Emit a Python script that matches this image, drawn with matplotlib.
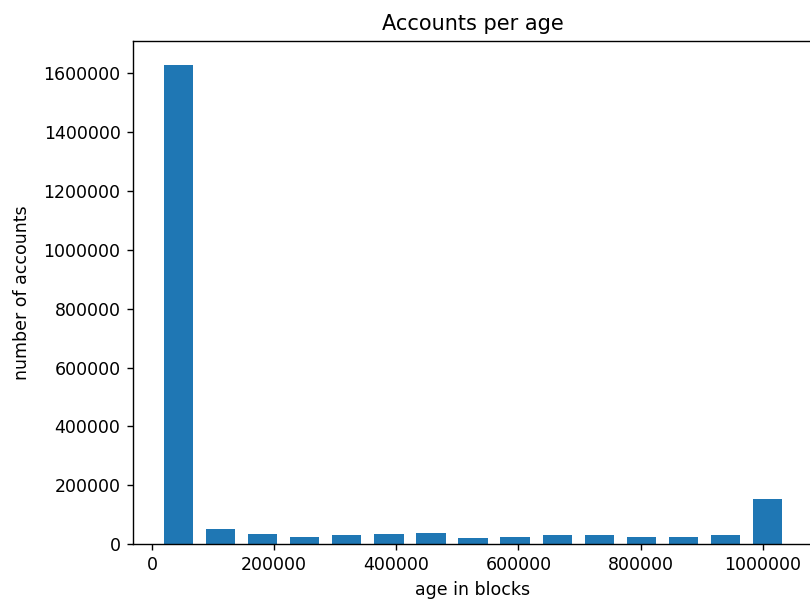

import matplotlib
matplotlib.use("Agg")
import matplotlib.pyplot as plt

# bin centres in blocks and account counts per bin
bin_centers = [43000, 111940, 180880, 249820, 318760, 387700, 456640, 525580,
               594520, 663460, 732400, 801340, 870280, 939220, 1008160]
counts = [1628500, 51900, 35000, 24800, 30500, 35000, 38300, 21400,
          24800, 30500, 30500, 24800, 24800, 30500, 153700]
bin_width = 68940

fig = plt.figure(figsize=(6.48, 4.864), dpi=125)
ax = fig.add_axes([132.7 / 810, 1 - 544.3 / 608, 680.7 / 810, 503.6 / 608])

ax.bar(bin_centers, counts, width=bin_width * 0.7, color="#1f77b4")
ax.ticklabel_format(style="plain", useOffset=False)
# the reference is cropped just before the right spine
ax.spines["right"].set_visible(False)

ax.set_title("Accounts per age")
ax.set_xlabel("age in blocks")
ax.set_ylabel("number of accounts", labelpad=7)

fig.savefig("out.png", dpi=125)
